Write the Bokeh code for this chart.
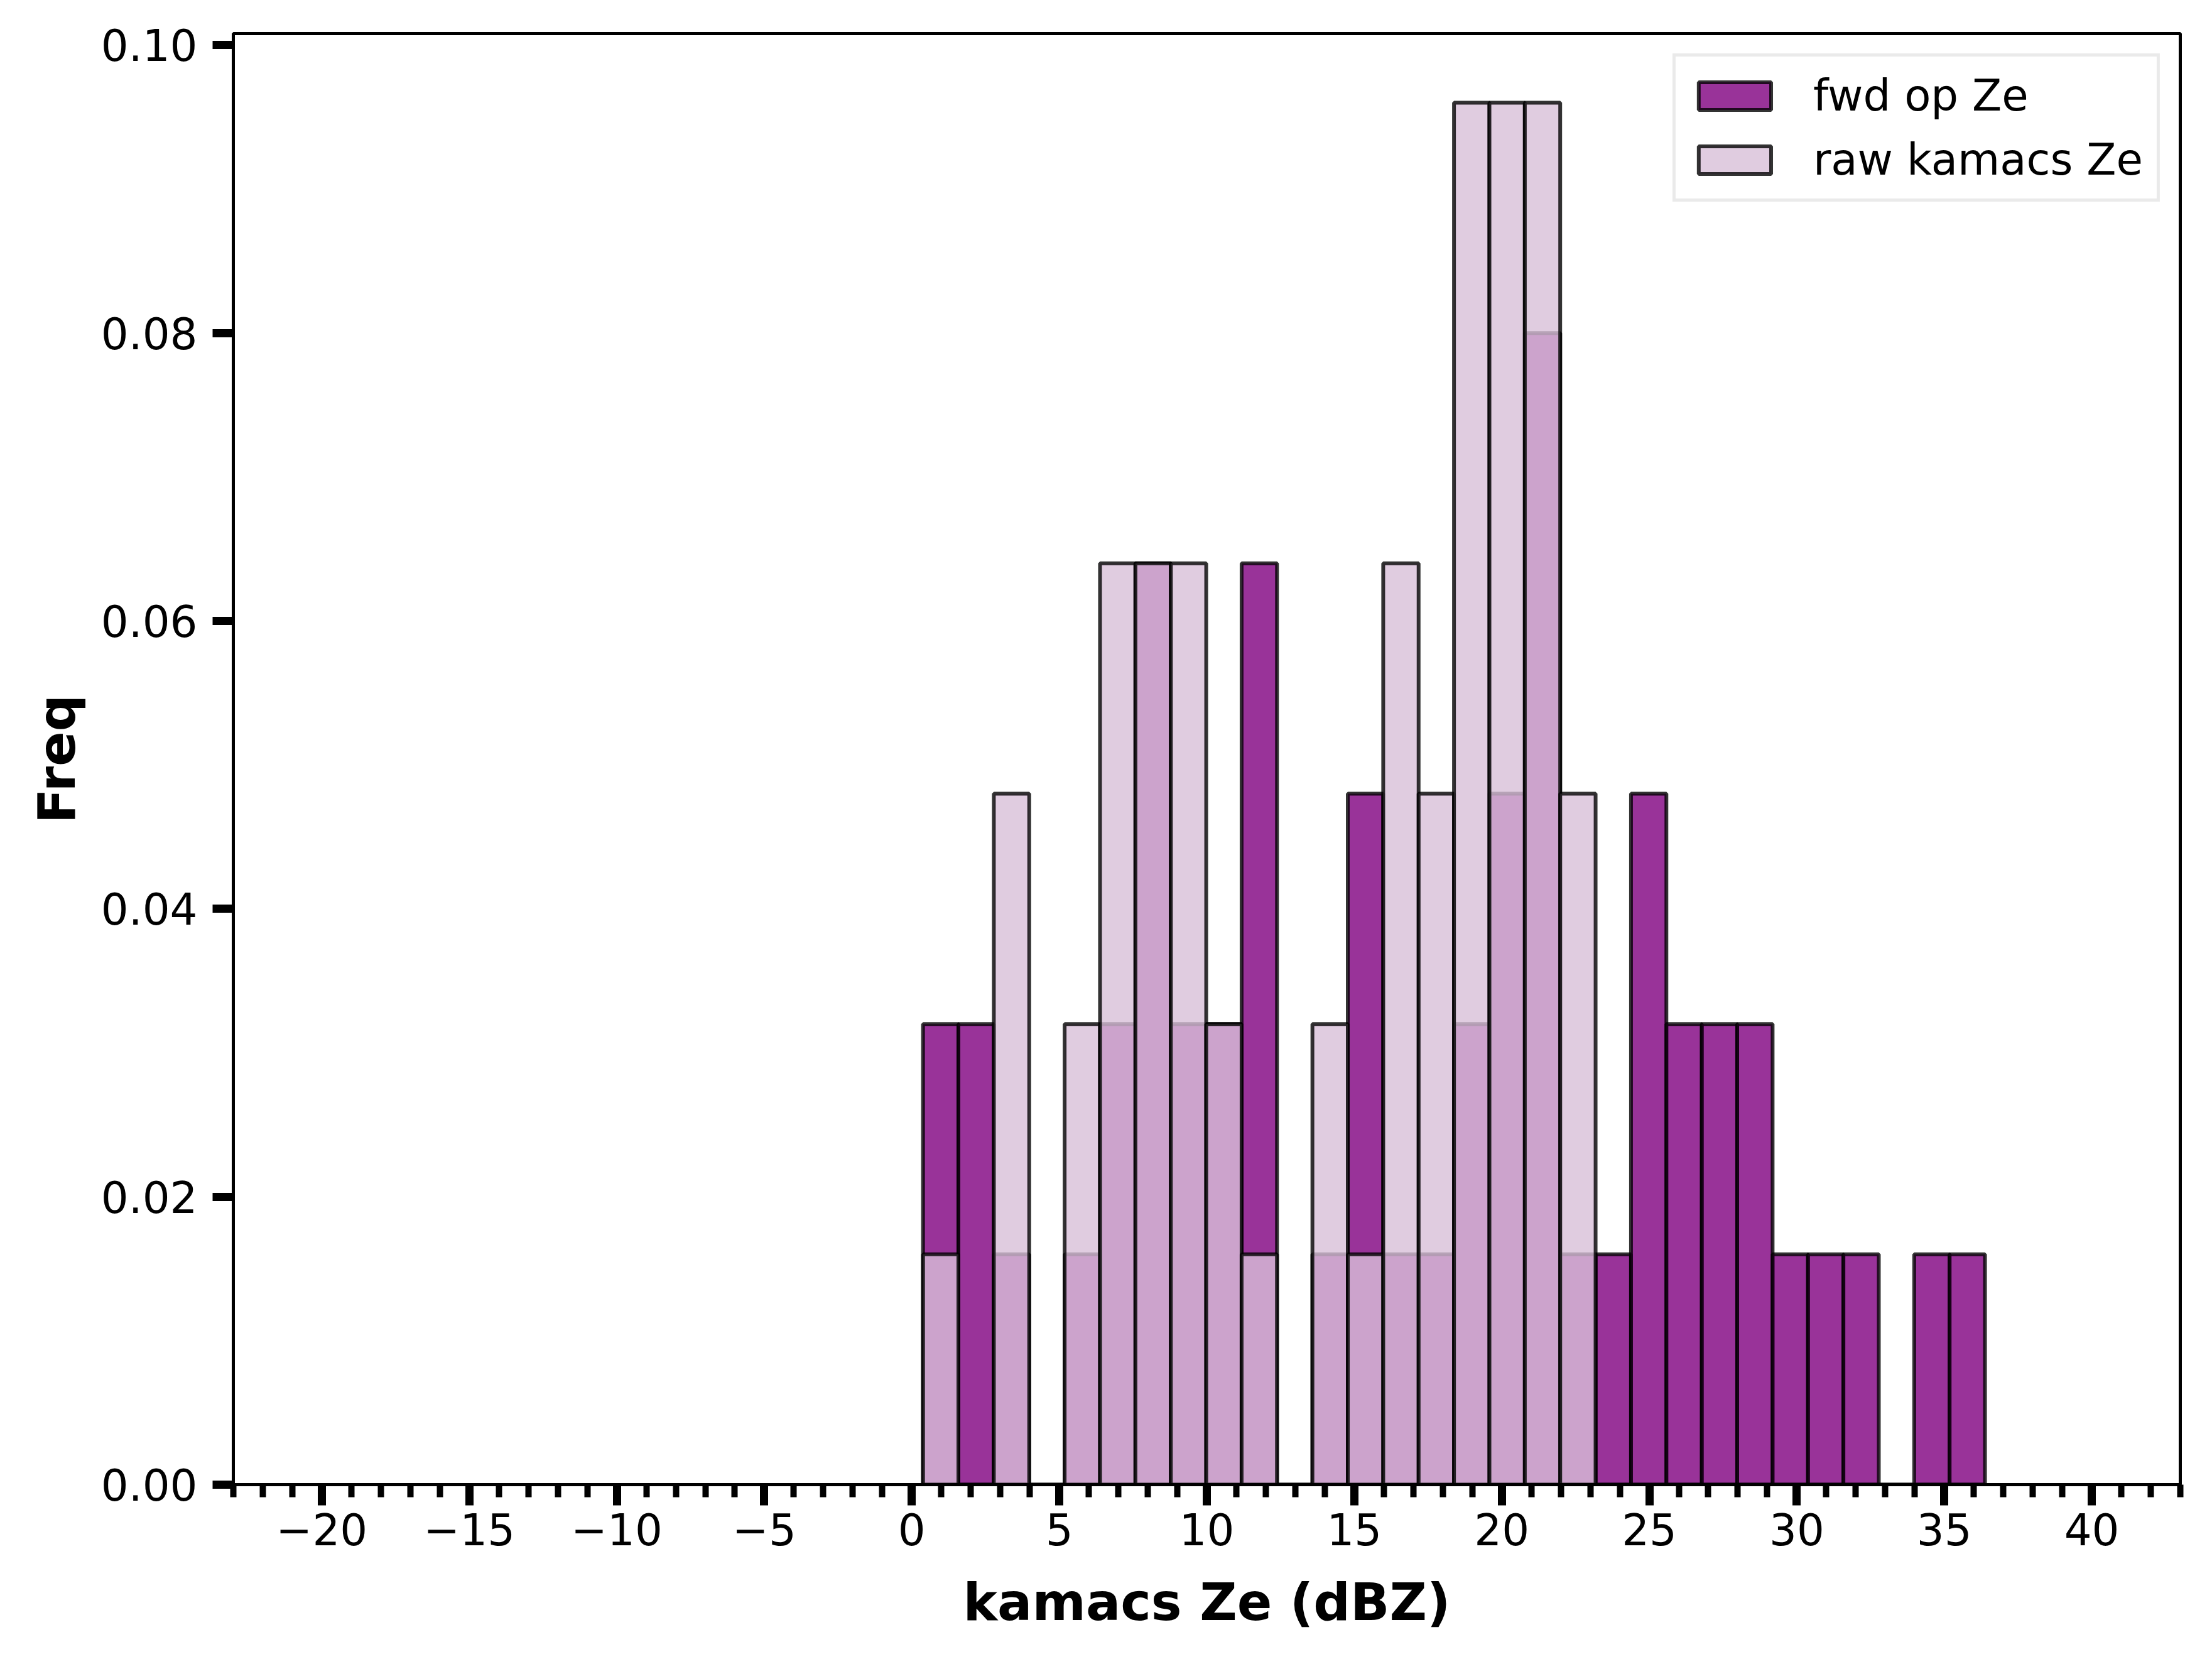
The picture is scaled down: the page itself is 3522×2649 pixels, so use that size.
from bokeh.plotting import figure
from bokeh.models import Range1d, SingleIntervalTicker, FixedTicker, CustomJSTickFormatter
from bokeh.embed import file_html
from bokeh.resources import INLINE

# histogram bins (dBZ)
bin_left = [0.38, 1.58, 2.78, 3.98, 5.18, 6.38, 7.58, 8.78, 9.98, 11.18,
            12.38, 13.58, 14.78, 15.98, 17.18, 18.38, 19.58, 20.78, 21.98, 23.18,
            24.38, 25.58, 26.78, 27.98, 29.18, 30.38, 31.58, 32.78, 33.98, 35.18]
bin_right = [1.58, 2.78, 3.98, 5.18, 6.38, 7.58, 8.78, 9.98, 11.18, 12.38,
             13.58, 14.78, 15.98, 17.18, 18.38, 19.58, 20.78, 21.98, 23.18, 24.38,
             25.58, 26.78, 27.98, 29.18, 30.38, 31.58, 32.78, 33.98, 35.18, 36.38]

fwd_freq = [0.032, 0.032, 0.016, 0.0, 0.016, 0.032, 0.064, 0.032, 0.032, 0.064,
            0.0, 0.016, 0.048, 0.016, 0.016, 0.032, 0.048, 0.080, 0.016, 0.016,
            0.048, 0.032, 0.032, 0.032, 0.016, 0.016, 0.016, 0.0, 0.016, 0.016]
raw_freq = [0.016, 0.0, 0.048, 0.0, 0.032, 0.064, 0.064, 0.064, 0.032, 0.016,
            0.0, 0.032, 0.016, 0.064, 0.048, 0.096, 0.096, 0.096, 0.048, 0.0,
            0.0, 0.0, 0.0, 0.0, 0.0, 0.0, 0.0, 0.0, 0.0, 0.0]

series_names = ["fwd op Ze", "raw kamacs Ze"]
y_ticks = [0.0, 0.02, 0.04, 0.06, 0.08, 0.10]

FONT = "DejaVu Sans"

p = figure(width=3506, height=2633, output_backend="svg", toolbar_location=None,
           x_range=Range1d(-23, 43), y_range=Range1d(0, 0.1008),
           min_border_left=371, min_border_right=35, min_border_top=53, min_border_bottom=270)

p.quad(left=bin_left, right=bin_right, top=fwd_freq, bottom=0,
       fill_color="purple", fill_alpha=0.8, line_color="black", line_alpha=0.8,
       line_width=6, legend_label=series_names[0])
p.quad(left=bin_left, right=bin_right, top=raw_freq, bottom=0,
       fill_color="thistle", fill_alpha=0.8, line_color="black", line_alpha=0.8,
       line_width=6, legend_label=series_names[1])

p.xgrid.visible = False
p.ygrid.visible = False
p.outline_line_color = "black"
p.outline_line_width = 5
p.background_fill_color = "white"
p.border_fill_color = "white"

p.xaxis.ticker = SingleIntervalTicker(interval=5, num_minor_ticks=5)
p.yaxis.ticker = FixedTicker(ticks=y_ticks, minor_ticks=[])
p.xaxis.formatter = CustomJSTickFormatter(code="return tick < 0 ? '\u2212' + Math.abs(tick) : '' + tick;")
p.yaxis.formatter = CustomJSTickFormatter(code="return tick.toFixed(2);")

for ax in (p.xaxis, p.yaxis):
    ax.axis_line_width = 5
    ax.axis_line_color = "black"
    ax.major_tick_line_width = 13
    ax.major_tick_line_color = "black"
    ax.major_tick_out = 33
    ax.major_tick_in = 0
    ax.minor_tick_line_width = 10
    ax.minor_tick_line_color = "black"
    ax.minor_tick_out = 20
    ax.minor_tick_in = 0
    ax.major_label_text_font = FONT
    ax.major_label_text_font_size = "69px"
    ax.major_label_text_color = "black"
    ax.axis_label_text_font = FONT
    ax.axis_label_text_font_size = "82px"
    ax.axis_label_text_font_style = "bold"
    ax.axis_label_text_color = "black"

p.xaxis.major_label_standoff = 12
p.yaxis.major_label_standoff = 24
p.xaxis.axis_label = "kamacs Ze (dBZ)"
p.yaxis.axis_label = "Freq"
p.xaxis.axis_label_standoff = 40
p.yaxis.axis_label_standoff = 20

lg = p.legend[0]
lg.location = "top_right"
lg.margin = 32
lg.padding = 22
lg.spacing = 22
lg.border_line_color = "#d6d6d6"
lg.border_line_width = 5
lg.background_fill_color = "white"
lg.background_fill_alpha = 0.8
lg.glyph_width = 144
lg.glyph_height = 55
lg.label_height = 55
lg.label_standoff = 53
lg.label_text_font = FONT
lg.label_text_font_size = "69px"
lg.label_text_color = "black"

open("out.html", "w").write(file_html(p, INLINE))
